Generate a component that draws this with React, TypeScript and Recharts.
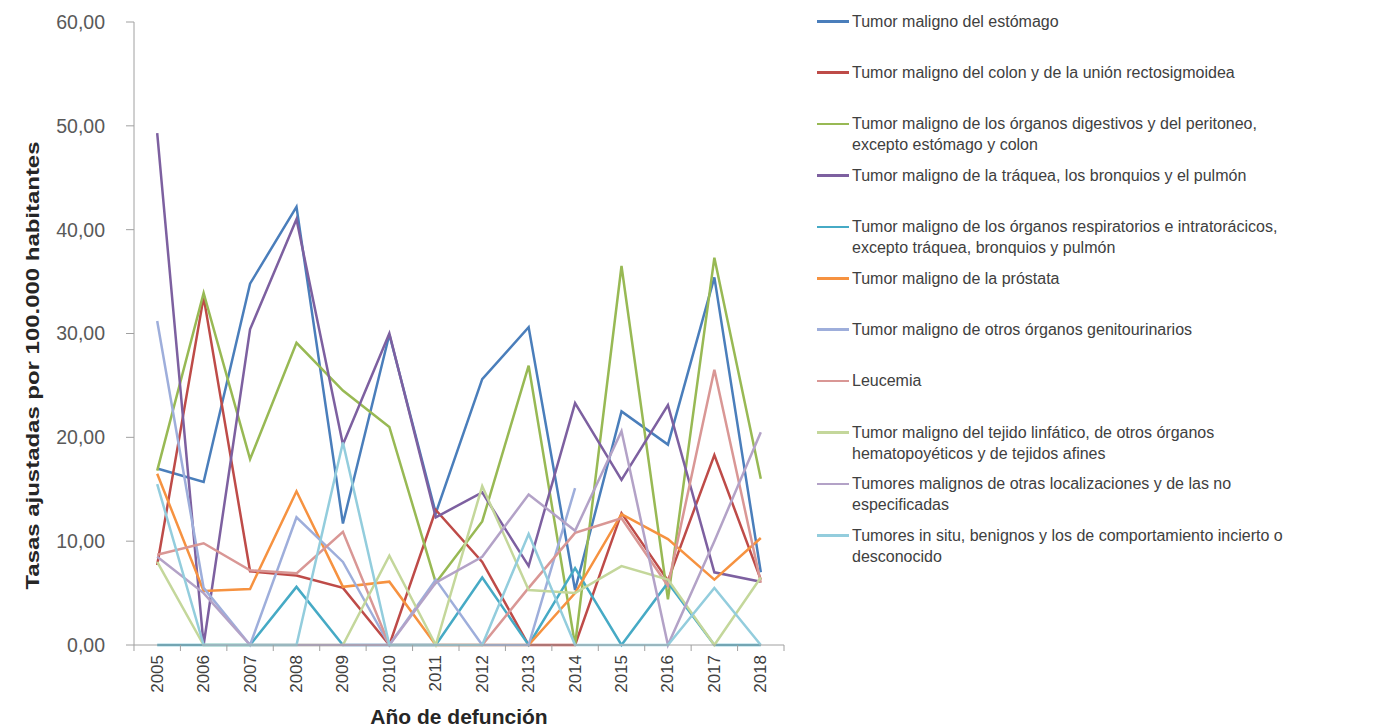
import React from 'react';
import { LineChart, Line, XAxis, YAxis, Legend } from 'recharts';

const years = ['2005', '2006', '2007', '2008', '2009', '2010', '2011', '2012', '2013', '2014', '2015', '2016', '2017', '2018'];
const yTicks = [0, 10, 20, 30, 40, 50, 60];

const estomago = [17.0, 15.7, 34.8, 42.2, 11.7, 29.9, 12.7, 25.6, 30.6, 5.3, 22.5, 19.3, 35.4, 7.0];
const colon = [7.7, 33.5, 7.1, 6.7, 5.5, 0, 13.0, 8.0, 0, 0, 12.7, 6.2, 18.3, 6.3];
const digestivos = [16.8, 33.9, 17.9, 29.1, 24.5, 21.0, 6.0, 11.9, 26.9, 0, 36.5, 4.4, 37.3, 16.0];
const traquea = [49.3, 0, 30.4, 41.0, 19.3, 30.0, 12.3, 14.7, 7.6, 23.3, 15.9, 23.1, 7.0, 6.1];
const respiratorios = [0, 0, 0, 5.6, 0, 0, 0, 6.5, 0, 7.4, 0, 6.0, 0, 0];
const prostata = [16.5, 5.2, 5.4, 14.8, 5.6, 6.1, 0, 0, 0, 5.0, 12.6, 10.2, 6.3, 10.3];
const genitourinarios = [31.2, 5.5, 0, 12.3, 8.0, 0, 6.3, 0, 0, 15.1, null, null, null, null];
const leucemia = [8.7, 9.8, 7.2, 6.9, 10.9, 0, 0, 0, 5.5, 10.8, 12.2, 5.7, 26.5, 6.0];
const linfatico = [8.0, 0, 0, 0, 0, 8.6, 0, 15.3, 5.3, 5.0, 7.6, 6.3, 0, 6.5];
const otras = [8.5, 5.0, 0, 0, 0, 0, 6.0, 8.5, 14.5, 11.0, 20.6, 0, 10.0, 20.5];
const insitu = [15.5, 0, 0, 0, 19.5, 0, 0, 0, 10.7, 0, 0, 0, 5.5, 0];

const seriesNames = [
  'Tumor maligno del estómago',
  'Tumor maligno del colon y de la unión rectosigmoidea',
  'Tumor maligno de los órganos digestivos y del peritoneo,\nexcepto estómago y colon',
  'Tumor maligno de la tráquea, los bronquios y el pulmón',
  'Tumor maligno de los órganos respiratorios e intratorácicos,\nexcepto tráquea, bronquios y pulmón',
  'Tumor maligno de la próstata',
  'Tumor maligno de otros órganos genitourinarios',
  'Leucemia',
  'Tumor maligno del tejido linfático, de otros órganos\nhematopoyéticos y de tejidos afines',
  'Tumores malignos de otras localizaciones y de las no\nespecificadas',
  'Tumores in situ, benignos y los de comportamiento incierto o\ndesconocido',
];
const seriesValues = [estomago, colon, digestivos, traquea, respiratorios, prostata, genitourinarios, leucemia, linfatico, otras, insitu];
const seriesColors = ['#4A7EBB', '#BE4B48', '#98B954', '#7D60A0', '#46AAC5', '#F69240', '#9EAEDB', '#D99795', '#C4D79B', '#B3A2C7', '#93CDDD'];

const data = years.map((year, i) => {
  const row: Record<string, any> = { year };
  seriesValues.forEach((vals, s) => {
    row['s' + s] = vals[i];
  });
  return row;
});

const FONT = "'Liberation Sans', Arial, sans-serif";

const XTick = (props: any) => {
  const { x, y, payload, index, width, visibleTicksCount } = props;
  const band = width / visibleTicksCount;
  const half = band / 2;
  return (
    <g>
      <line x1={x - half} y1={y} x2={x - half} y2={y + 6} stroke="#A0A0A0" />
      {index === visibleTicksCount - 1 && (
        <line x1={x + half} y1={y} x2={x + half} y2={y + 6} stroke="#A0A0A0" />
      )}
      <text
        transform={`translate(${x},${y + 10}) rotate(-90)`}
        textAnchor="end"
        dominantBaseline="central"
        fontSize={17}
        fontFamily={FONT}
        fill="#404040"
      >
        {payload.value}
      </text>
    </g>
  );
};

const YTitle = (props: any) => {
  const { viewBox } = props;
  const cx = 25;
  const cy = viewBox.y + viewBox.height / 2 + 32;
  return (
    <text
      x={cx}
      y={cy}
      transform={`rotate(-90 ${cx} ${cy})`}
      textAnchor="middle"
      dominantBaseline="central"
      fontSize={18}
      fontWeight="bold"
      fontFamily="'Liberation Sans Narrow', 'Arial Narrow', 'Liberation Sans', sans-serif"
      fill="#262626"
      textLength={448}
      lengthAdjust="spacingAndGlyphs"
    >
      Tasas ajustadas por 100.000 habitantes
    </text>
  );
};

const LegendContent = () => (
  <div style={{ position: 'relative', width: 560, height: 560, fontFamily: FONT }}>
    {seriesNames.map((name, i) => (
      <div
        key={i}
        style={{
          position: 'absolute',
          left: 0,
          top: 13 + i * 51.4 - 10.5,
          display: 'flex',
          alignItems: 'flex-start',
        }}
      >
        <div style={{ width: 32, height: 21, position: 'relative', flex: 'none' }}>
          <div style={{ position: 'absolute', left: 0, top: 9.5, width: 32, height: 2.5, background: seriesColors[i] }} />
        </div>
        <div style={{ marginLeft: 3, fontSize: 16, lineHeight: '21px', color: '#404040', whiteSpace: 'pre-line' }}>
          {name}
        </div>
      </div>
    ))}
  </div>
);

export default function App() {
  return (
    <LineChart width={1363} height={719} data={data} margin={{ top: 14, right: 587, bottom: 0, left: 0 }}>
      <XAxis
        dataKey="year"
        height={82}
        interval={0}
        padding={{ left: 23.2, right: 23.2 }}
        tickLine={false}
        tickSize={0}
        tickMargin={0}
        axisLine={{ stroke: '#A0A0A0' }}
        tick={<XTick />}
        label={{
          value: 'Año de defunción',
          position: 'insideBottom',
          offset: 3,
          fontSize: 21,
          fontWeight: 'bold',
          fontFamily: FONT,
          fill: '#262626',
        }}
      />
      <YAxis
        width={126}
        domain={[0, 60]}
        ticks={yTicks}
        interval={0}
        tickSize={8}
        tickMargin={21}
        axisLine={{ stroke: '#A0A0A0' }}
        tickLine={{ stroke: '#A0A0A0' }}
        tick={{ fontSize: 19.5, fontFamily: FONT, fill: '#595959' }}
        tickFormatter={(v: number) => v.toFixed(2).replace('.', ',')}
        label={<YTitle />}
      />
      <Legend
        layout="vertical"
        align="center"
        verticalAlign="middle"
        wrapperStyle={{ left: 809, top: 0, width: 560 }}
        content={<LegendContent />}
      />
      {seriesValues.map((_, s) => (
        <Line
          key={s}
          type="linear"
          dataKey={'s' + s}
          name={seriesNames[s]}
          stroke={seriesColors[s]}
          strokeWidth={2.5}
          dot={false}
          isAnimationActive={false}
        />
      ))}
    </LineChart>
  );
}
